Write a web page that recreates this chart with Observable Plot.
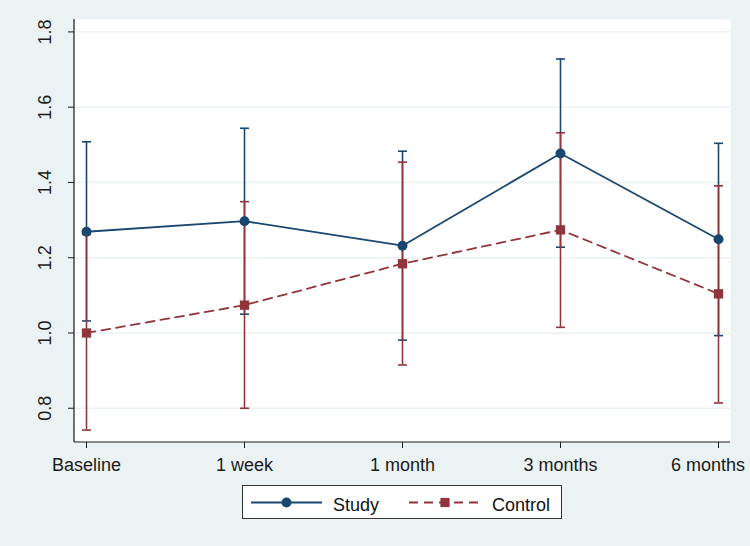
<!DOCTYPE html>
<html><head><meta charset="utf-8">
<script src="https://cdn.jsdelivr.net/npm/d3@7"></script>
<script src="https://cdn.jsdelivr.net/npm/@observablehq/plot@0.6"></script>
<style>
body{margin:0;background:#EAF2F3;font-family:"Liberation Sans",Arial,Helvetica,sans-serif;}
#wrap{position:relative;width:750px;height:546px;overflow:hidden;}
#legend{position:absolute;left:242px;top:485px;width:320px;height:34px;box-sizing:border-box;background:#fff;border:1px solid #333;}
#legend .sw{position:absolute;top:0;height:32px;}
#legend .lb{position:absolute;top:9.5px;font-size:18px;line-height:18px;color:#111;white-space:nowrap;}
</style></head><body><div id="wrap"></div>
<script>
const timepoints = ["Baseline","1 week","1 month","3 months","6 months"];
const studyMean  = [1.269, 1.297, 1.232, 1.477, 1.249];
const studyLow   = [1.032, 1.050, 0.981, 1.228, 0.993];
const studyHigh  = [1.508, 1.544, 1.483, 1.728, 1.504];
const controlMean = [1.000, 1.074, 1.184, 1.274, 1.104];
const controlLow  = [0.742, 0.800, 0.915, 1.015, 0.814];
const controlHigh = [1.262, 1.349, 1.454, 1.532, 1.391];
const yTicks = [0.8, 1.0, 1.2, 1.4, 1.6, 1.8];
const seriesNames = ["Study", "Control"];
const seriesColors = ["#1A476F", "#90353B"];

const study = timepoints.map((t, i) => ({t, mean: studyMean[i], low: studyLow[i], high: studyHigh[i]}));
const control = timepoints.map((t, i) => ({t, mean: controlMean[i], low: controlLow[i], high: controlHigh[i]}));

const bg = "#EAF2F3";
const ink = "#1a1a1a";

// horizontal cap symbol for error bars
const capSymbol = {
  draw(context, size) {
    const r = Math.sqrt(size / Math.PI);
    context.moveTo(-r, 0);
    context.lineTo(r, 0);
  }
};

function errorBars(data, color) {
  return [
    Plot.ruleX(data, {x: "t", y1: "low", y2: "high", stroke: color, strokeWidth: 1.6}),
    Plot.dot(data, {x: "t", y: "low", symbol: capSymbol, r: 4.5, fill: "none", stroke: color, strokeWidth: 1.6}),
    Plot.dot(data, {x: "t", y: "high", symbol: capSymbol, r: 4.5, fill: "none", stroke: color, strokeWidth: 1.6})
  ];
}

const axisLines = (index, scales, values, dims) => {
  const {marginLeft: l, marginTop: t, marginRight: r, marginBottom: b, width: w, height: h} = dims;
  const g = d3.create("svg:g").attr("stroke", ink).attr("stroke-width", 1.2);
  g.append("line").attr("x1", l).attr("x2", l).attr("y1", t).attr("y2", h - b);
  g.append("line").attr("x1", l).attr("x2", w - r).attr("y1", h - b).attr("y2", h - b);
  return g.node();
};

const lastLabel = timepoints[timepoints.length - 1];

const chart = Plot.plot({
  width: 750,
  height: 480,
  marginTop: 19,
  marginBottom: 38,
  marginLeft: 74,
  marginRight: 20,
  style: {background: "transparent", fontFamily: "Liberation Sans, Arial, Helvetica, sans-serif", color: ink, overflow: "visible"},
  x: {type: "point", domain: timepoints, padding: 0.0759},
  y: {domain: [0.709, 1.833]},
  marks: [
    Plot.frame({fill: "white", stroke: null}),
    Plot.ruleY(yTicks, {stroke: bg, strokeWidth: 1.4}),
    Plot.axisY({ticks: yTicks, tickSize: 6, tickFormat: () => "", label: null}),
    Plot.text(yTicks, {y: d => d, text: d => d.toFixed(1), frameAnchor: "left", rotate: -90, dx: -24,
      lineAnchor: "bottom", textAnchor: "middle", fontSize: 18, fill: ink}),
    Plot.axisX({tickSize: 6, tickFormat: () => "", label: null}),
    Plot.text(timepoints.filter(t => t !== lastLabel), {x: d => d, text: d => d, frameAnchor: "bottom", dy: 16,
      lineAnchor: "top", fontSize: 18, fill: ink}),
    Plot.text([lastLabel], {x: d => d, text: d => d, frameAnchor: "bottom", dy: 16, dx: -10.5,
      lineAnchor: "top", fontSize: 18, fill: ink}),
    axisLines,
    ...errorBars(study, seriesColors[0]),
    ...errorBars(control, seriesColors[1]),
    Plot.line(study, {x: "t", y: "mean", stroke: seriesColors[0], strokeWidth: 1.8}),
    Plot.line(control, {x: "t", y: "mean", stroke: seriesColors[1], strokeWidth: 1.8, strokeDasharray: "9,6"}),
    Plot.dot(study, {x: "t", y: "mean", r: 5, fill: seriesColors[0], symbol: "circle"}),
    Plot.dot(control, {x: "t", y: "mean", r: 5.25, fill: seriesColors[1], symbol: "square"})
  ]
});

const wrap = document.getElementById("wrap");
wrap.appendChild(chart);

// legend
const legend = document.createElement("div");
legend.id = "legend";
const items = [
  {sw: 8, w: 71, lb: 90, dash: null, symbol: "circle"},
  {sw: 166, w: 72, lb: 249, dash: "9,6", symbol: "square"}
];
items.forEach((it, i) => {
  const s = d3.create("svg").attr("class", "sw").attr("width", it.w).attr("height", 32)
    .style("left", it.sw + "px");
  s.append("line").attr("x1", 0).attr("x2", it.w).attr("y1", 16.5).attr("y2", 16.5)
    .attr("stroke", seriesColors[i]).attr("stroke-width", 1.8)
    .attr("stroke-dasharray", it.dash);
  if (it.symbol === "circle") {
    s.append("circle").attr("cx", it.w / 2).attr("cy", 16.5).attr("r", 5).attr("fill", seriesColors[i]);
  } else {
    s.append("rect").attr("x", it.w / 2 - 4.6).attr("y", 16.5 - 4.6).attr("width", 9.2).attr("height", 9.2).attr("fill", seriesColors[i]);
  }
  legend.appendChild(s.node());
  const t = document.createElement("span");
  t.className = "lb";
  t.style.left = it.lb + "px";
  t.textContent = seriesNames[i];
  legend.appendChild(t);
});
wrap.appendChild(legend);
</script></body></html>
